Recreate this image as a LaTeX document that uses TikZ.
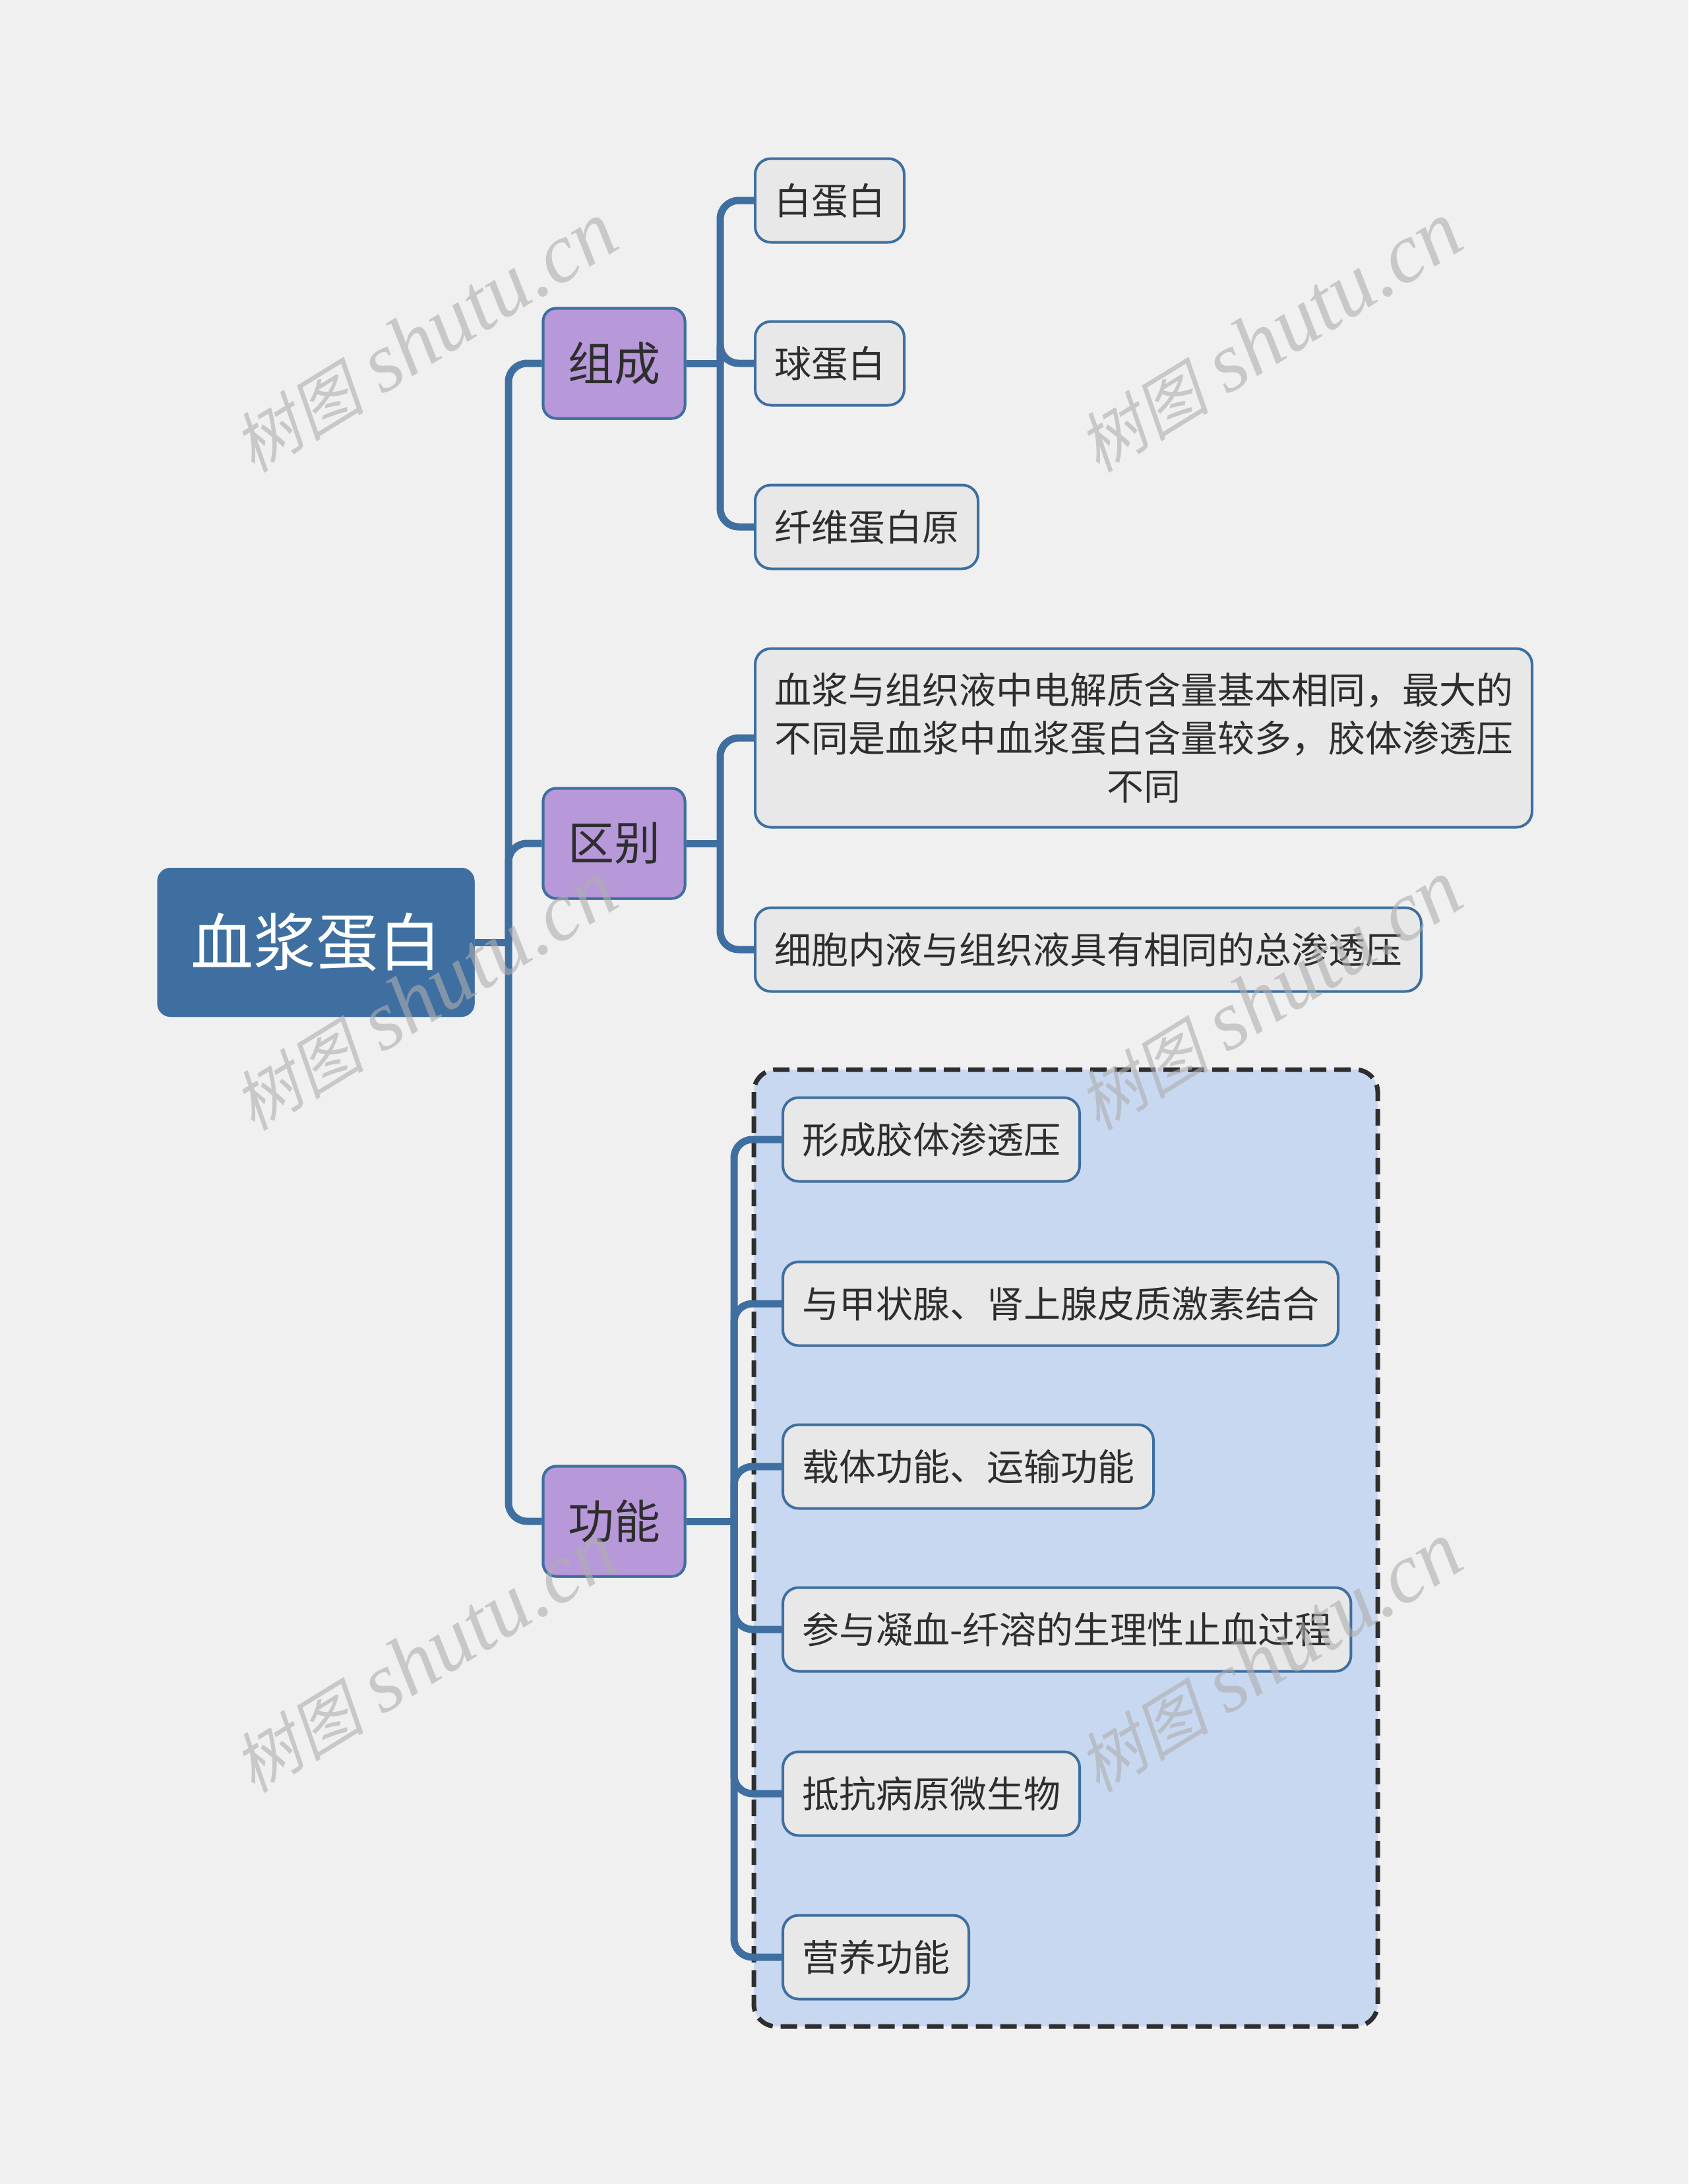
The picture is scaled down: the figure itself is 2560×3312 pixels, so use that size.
\documentclass[tikz,border=0pt]{standalone}
\usepackage{fontspec}
\newfontfamily\cjk{Noto Sans CJK SC}
\newfontfamily\wmcjk[FakeSlant=0.22]{Noto Sans CJK SC}
\newfontfamily\wmlat{Liberation Serif}
\definecolor{bg}{HTML}{F0F0F0}
\definecolor{mainblue}{HTML}{3E6FA0}
\definecolor{lvpurple}{HTML}{B798D9}
\definecolor{leaffill}{HTML}{E8E8E8}
\definecolor{grpfill}{HTML}{C8D8F1}
\definecolor{txt}{HTML}{2E2E2E}
\definecolor{grpline}{HTML}{2E2E2E}
\definecolor{wm}{HTML}{AEAEAE}
\tikzset{
  rootbox/.style={fill=mainblue, rounded corners=20, text=white,
    font=\cjk\fontsize{95}{110}\selectfont, minimum width=481, minimum height=226, inner sep=0},
  lvbox/.style={fill=lvpurple, draw=mainblue, line width=4, rounded corners=20, text=txt,
    font=\cjk\fontsize{70}{84}\selectfont, minimum width=215, minimum height=167, inner sep=0},
  leafbox/.style={fill=leaffill, draw=mainblue, line width=4, rounded corners=24, text=txt,
    font=\cjk\fontsize{56}{73}\selectfont, minimum height=127, inner xsep=29, inner ysep=0, anchor=west},
  conn/.style={draw=mainblue, line width=11, rounded corners=28},
  stub/.style={draw=mainblue, line width=11},
  grpbox/.style={fill=grpfill, draw=grpline, line width=7, dash pattern=on 25 off 12, rounded corners=34},
  wmark/.style={text=wm, opacity=0.6, rotate=31.6, inner sep=0}
}
\begin{document}
\begin{tikzpicture}[x=1pt,y=-1pt]
\fill[bg] (0,0) rectangle (2560,3312);
\useasboundingbox (0,0) rectangle (2560,3312);
% group box
\draw[grpbox] (1143,1622) rectangle (2089,3073);
% root and level one
\node[rootbox] (root) at (479,1429) {血浆蛋白};
\node[lvbox] (zc) at (931,551) {组成};
\node[lvbox] (qb) at (931,1279) {区别};
\node[lvbox] (gn) at (931,2307) {功能};
% leaves
\node[leafbox] (a1) at (1143,304) {白蛋白};
\node[leafbox] (a2) at (1143,551) {球蛋白};
\node[leafbox] (a3) at (1143,799) {纤维蛋白原};
\node[leafbox, align=center, minimum height=271] (b1) at (1143,1119) {血浆与组织液中电解质含量基本相同，最大的\\不同是血浆中血浆蛋白含量较多，胶体渗透压\\不同};
\node[leafbox] (b2) at (1143,1440) {细胞内液与组织液具有相同的总渗透压};
\node[leafbox] (c1) at (1185,1728) {形成胶体渗透压};
\node[leafbox] (c2) at (1185,1977) {与甲状腺、肾上腺皮质激素结合};
\node[leafbox] (c3) at (1185,2224) {载体功能、运输功能};
\node[leafbox] (c4) at (1185,2471) {参与凝血-纤溶的生理性止血过程};
\node[leafbox] (c5) at (1185,2720) {抵抗病原微生物};
\node[leafbox] (c6) at (1185,2968) {营养功能};
% junctions
\coordinate (jr) at (771,1429);
\coordinate (ja) at (1092,551);
\coordinate (jb) at (1092,1279);
\coordinate (jc) at (1113,2307);
% connectors
\draw[stub] (root.east) -- (jr);
\draw[conn] (jr) |- (zc.west);
\draw[conn] (jr) |- (qb.west);
\draw[conn] (jr) |- (gn.west);
\draw[stub] (zc.east) -- (ja);
\draw[conn] (ja) |- (a1.west);
\draw[conn] (ja) |- (a2.west);
\draw[conn] (ja) |- (a3.west);
\draw[stub] (qb.east) -- (jb);
\draw[conn] (jb) |- (b1.west);
\draw[conn] (jb) |- (b2.west);
\draw[stub] (gn.east) -- (jc);
\draw[conn] (jc) |- (c1.west);
\draw[conn] (jc) |- (c2.west);
\draw[conn] (jc) |- (c3.west);
\draw[conn] (jc) |- (c4.west);
\draw[conn] (jc) |- (c5.west);
\draw[conn] (jc) |- (c6.west);
% redraw nodes on top of connector ends
\node[rootbox] at (root) {血浆蛋白};
\node[lvbox] at (zc) {组成};
\node[lvbox] at (qb) {区别};
\node[lvbox] at (gn) {功能};
% watermarks
\foreach \wx/\wy [count=\i] in {644/512, 1925/512, 644/1510, 1925/1510, 644/2514, 1925/2514}{
  \node[wmark] (wm\i) at (\wx,\wy) {{\wmcjk\fontsize{100}{110}\selectfont 树图}\hspace{28pt}{\wmlat\itshape\fontsize{128}{130}\selectfont shutu.cn}};
}
\end{tikzpicture}
\end{document}
